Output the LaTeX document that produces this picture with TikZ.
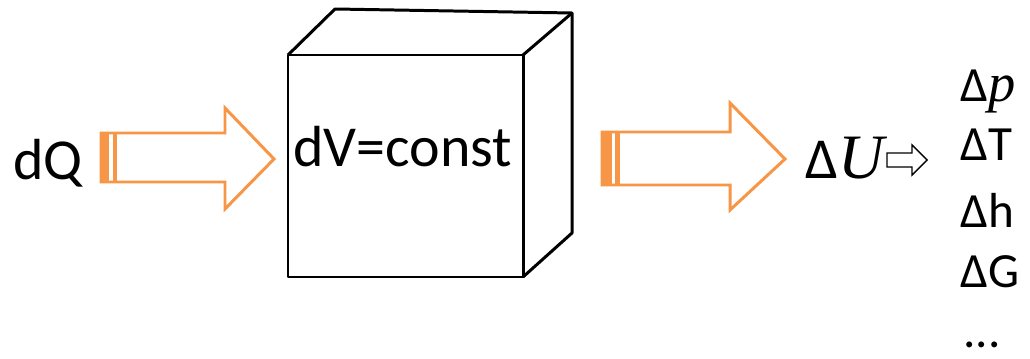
\documentclass[tikz,border=0pt]{standalone}
\usepackage{fontspec}
\setmainfont{Carlito}
\newfontfamily\varfont{Liberation Serif}
\usepackage{xcolor}
\usetikzlibrary{positioning}
\definecolor{heatorange}{RGB}{247,150,70}

\begin{document}
\begin{tikzpicture}[
    x=0.02cm, y=-0.02cm,
    bigtext/.style={inner sep=0pt, anchor=base west, font=\fontsize{33}{40}\selectfont},
    listtext/.style={inner sep=0pt, anchor=base west, font=\fontsize{28}{34}\selectfont},
    flow/.style={draw=heatorange, line width=1.7pt, fill=white, line join=miter},
    tailbar/.style={fill=heatorange},
    box/.style={draw=black, line width=1.7pt, line join=round},
    hollow/.style={draw=black, line width=0.8pt, fill=white}
]
    \useasboundingbox (0,0) rectangle (1030,358);

    % Cube (constant volume)
    \draw[box] (288,55) -- (335,9) -- (572,13) -- (572,233) -- (523,277);
    \draw[box] (523,55) -- (572,13);
    \draw[box] (288,55) rectangle (523,277);
    \node (vol) at (293,166) [bigtext] {dV=const};

    % Heat going in
    \node (dQ) at (13,179) [bigtext] {dQ};
    \draw[flow] (101,133) -- (225,133) -- (225,108) -- (274,159) -- (225,209) -- (225,182) -- (101,182) -- cycle;
    \fill[tailbar] (101,133) rectangle (109,182);
    \fill[tailbar] (112.5,133) rectangle (116.5,182);

    % Energy coming out
    \draw[flow] (602,132) -- (730,132) -- (730,103) -- (785,159) -- (730,210) -- (730,185) -- (602,185) -- cycle;
    \fill[tailbar] (602,132) rectangle (612,185);
    \fill[tailbar] (615,132) rectangle (620,185);

    \node (dU) at (805,178) [bigtext] {Δ{\varfont\itshape\fontsize{36}{40}\selectfont U}};
    \draw[hollow] (887,153) -- (912,153) -- (912,145) -- (927,160) -- (912,175) -- (912,167) -- (887,167) -- cycle;

    % Resulting changes
    \node (dp) at (960,101) [listtext] {Δ{\varfont\itshape\fontsize{31}{34}\selectfont p}};
    \node (dT) at (960,160) [listtext] {ΔT};
    \node (dh) at (960,227) [listtext] {Δh};
    \node (dG) at (960,287) [listtext] {ΔG};
    \node (more) at (963,347) [listtext] {...};

\end{tikzpicture}
\end{document}
